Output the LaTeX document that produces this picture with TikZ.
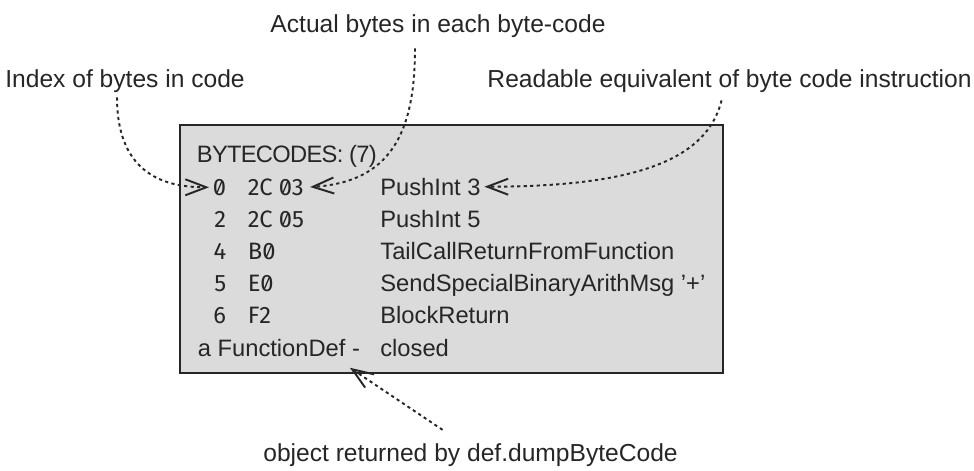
\documentclass[tikz,border=0pt]{standalone}
\usepackage{fontspec}
\setmainfont{Liberation Sans}
\newfontfamily\hexfont[Numbers=SlashedZero]{Fira Sans}
\usepackage{xcolor}
\usepackage{tikz}
\usetikzlibrary{arrows.meta, positioning}

\begin{document}
\begin{tikzpicture}[
  every node/.style={font=\fontsize{13.5}{16}\selectfont, text=black!85, inner sep=2pt},
  beschr/.style={font=\fontsize{14}{17}\selectfont, inner sep=0pt},
  hex/.style={font=\fontsize{13.5}{16}\selectfont\hexfont},
  pfeil/.style={-{Straight Barb[length=4.2mm, width=3.2mm]}, line width=1.1pt,
    dash pattern=on 1.8pt off 1.9pt, draw=black!85},
]
\useasboundingbox (0,0) rectangle (19.48,9.42);

% Kasten
\draw[fill=black!14, draw=black!85, line width=1.3pt] (3.6,1.96) rectangle (14.46,6.92);

% Beschriftungen
\node[beschr, anchor=base] (actual) at (8.76,8.76) {Actual bytes in each byte-code};
\node[beschr, anchor=base west] (index) at (0.1,7.66) {Index of bytes in code};
\node[beschr, anchor=base east] (readable) at (19.44,7.66) {Readable equivalent of byte code instruction};
\node[beschr, anchor=base west] (object) at (5.26,0.18) {object returned by def.dumpByteCode};

% Inhalt des Kastens
\node[anchor=base west, font=\fontsize{13.5}{16}\selectfont\addfontfeature{LetterSpace=-3}] (title) at (3.86,6.16) {BYTECODES: (7)};

\node[hex, anchor=base east] (i0) at (4.6,5.516) {0};
\node[hex, anchor=base west] (h0) at (4.88,5.516) {2C 03};
\node[anchor=base west] (b0) at (7.53,5.516) {PushInt 3};

\node[hex, anchor=base east] (i1) at (4.6,4.872) {2};
\node[hex, anchor=base west] (h1) at (4.88,4.872) {2C 05};
\node[anchor=base west] (b1) at (7.53,4.872) {PushInt 5};

\node[hex, anchor=base east] (i2) at (4.6,4.228) {4};
\node[hex, anchor=base west] (h2) at (4.88,4.228) {B0};
\node[anchor=base west] (b2) at (7.53,4.228) {TailCallReturnFromFunction};

\node[hex, anchor=base east] (i3) at (4.6,3.584) {5};
\node[hex, anchor=base west] (h3) at (4.88,3.584) {E0};
\node[anchor=base west] (b3) at (7.53,3.584) {SendSpecialBinaryArithMsg '+'};

\node[hex, anchor=base east] (i4) at (4.6,2.94) {6};
\node[hex, anchor=base west] (h4) at (4.88,2.94) {F2};
\node[anchor=base west] (b4) at (7.53,2.94) {BlockReturn};

\node[anchor=base west] (fd) at (3.88,2.296) {a FunctionDef -};
\node[anchor=base west] (b5) at (7.53,2.296) {closed};

% Pfeile
\draw[pfeil] ([xshift=-0.16cm, yshift=-0.08cm]index.south) .. controls +(0,-1.6) and +(-0.8,0) .. (i0.west);
\draw[pfeil] ([xshift=-0.46cm, yshift=-0.2cm]actual.south) .. controls +(0,-1.7) and +(1.6,0.1) .. ([xshift=0.05cm]h0.east);
\draw[pfeil] ([xshift=-0.16cm, yshift=-0.14cm]readable.south) .. controls +(-0.3,-1.2) and +(3,0) .. (b0.east);
\draw[pfeil] ([xshift=-0.56cm, yshift=0.28cm]object.north) -- ([xshift=-0.28cm, yshift=-0.15cm]fd.south east);

\end{tikzpicture}
\end{document}
